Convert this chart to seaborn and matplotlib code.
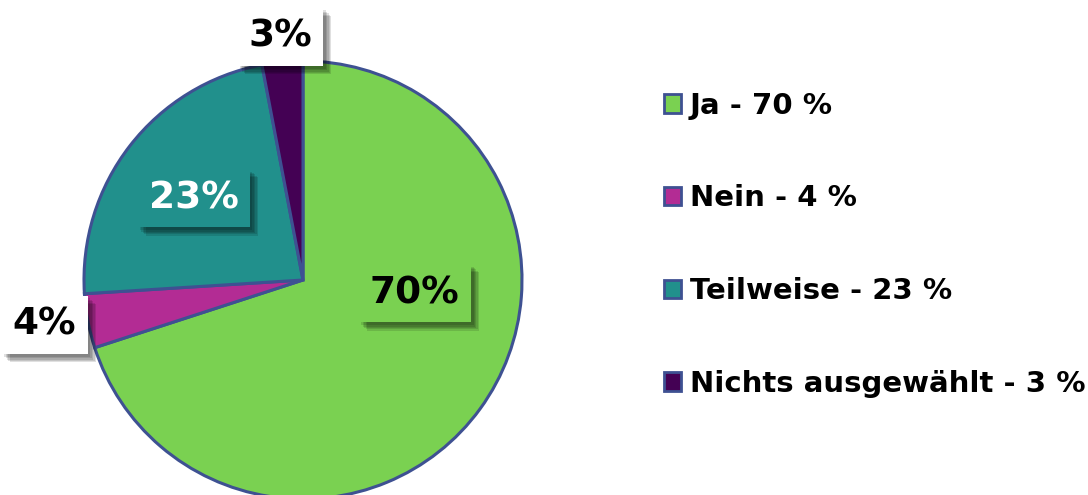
import matplotlib
matplotlib.use('Agg')
import matplotlib.pyplot as plt
import matplotlib.patheffects as pe
from matplotlib.patches import Patch
import seaborn as sns

categories = ['Ja', 'Nein', 'Teilweise', 'Nichts ausgewählt']
values = [70, 4, 23, 3]
colors = ['#7AD151', '#B32C94', '#21908C', '#440154']
label_colors = ['black', 'black', 'white', 'black']
box_colors = ['#7AD151', 'white', '#21908C', 'white']
# label anchor positions (data coords, pie radius = 1)
label_pos = [(0.51, -0.06), (-1.18, -0.205), (-0.50, 0.374), (-0.105, 1.11)]

sns.set_theme(style='white')
plt.rcParams['font.family'] = ['DejaVu Sans']

fig = plt.figure(figsize=(10.88, 4.95), dpi=100)
ax = fig.add_axes([84 / 1088, -4 / 495, 438 / 1088, 438 / 495])

wedges, _ = ax.pie(values, colors=colors, startangle=90, counterclock=False,
                   radius=1, wedgeprops=dict(edgecolor='#3E5192', linewidth=2.2))
ax.set_xlim(-1, 1)
ax.set_ylim(-1, 1)
ax.set_aspect('equal')
ax.axis('off')

# soft drop shadow: a few stacked offsets
shadow = [pe.SimplePatchShadow(offset=(o, -o), shadow_rgbFace='black', alpha=0.12)
          for o in (2, 3, 4, 5, 6)] + [pe.Normal()]

for v, (x, y), tc, bc in zip(values, label_pos, label_colors, box_colors):
    t = ax.text(x, y, f'{v}%', ha='center', va='center', fontsize=27,
                fontweight='bold', color=tc, clip_on=False,
                bbox=dict(boxstyle='square,pad=0.3', facecolor=bc, edgecolor='none'))
    t.get_bbox_patch().set_path_effects(shadow)

handles = [Patch(facecolor=c, edgecolor='#3E5192', linewidth=2) for c in colors]
labels = [f'{c} - {v} %' for c, v in zip(categories, values)]
leg = fig.legend(handles, labels, loc='upper left', bbox_to_anchor=(652 / 1088, 1 - 80 / 495),
                 frameon=False, prop=dict(size=21, weight='bold'),
                 handlelength=0.6, handleheight=0.6, handletextpad=0.3,
                 labelspacing=2.22, borderaxespad=0)
for txt in leg.get_texts():
    txt.set_color('black')

fig.savefig('out.png', dpi=100)
